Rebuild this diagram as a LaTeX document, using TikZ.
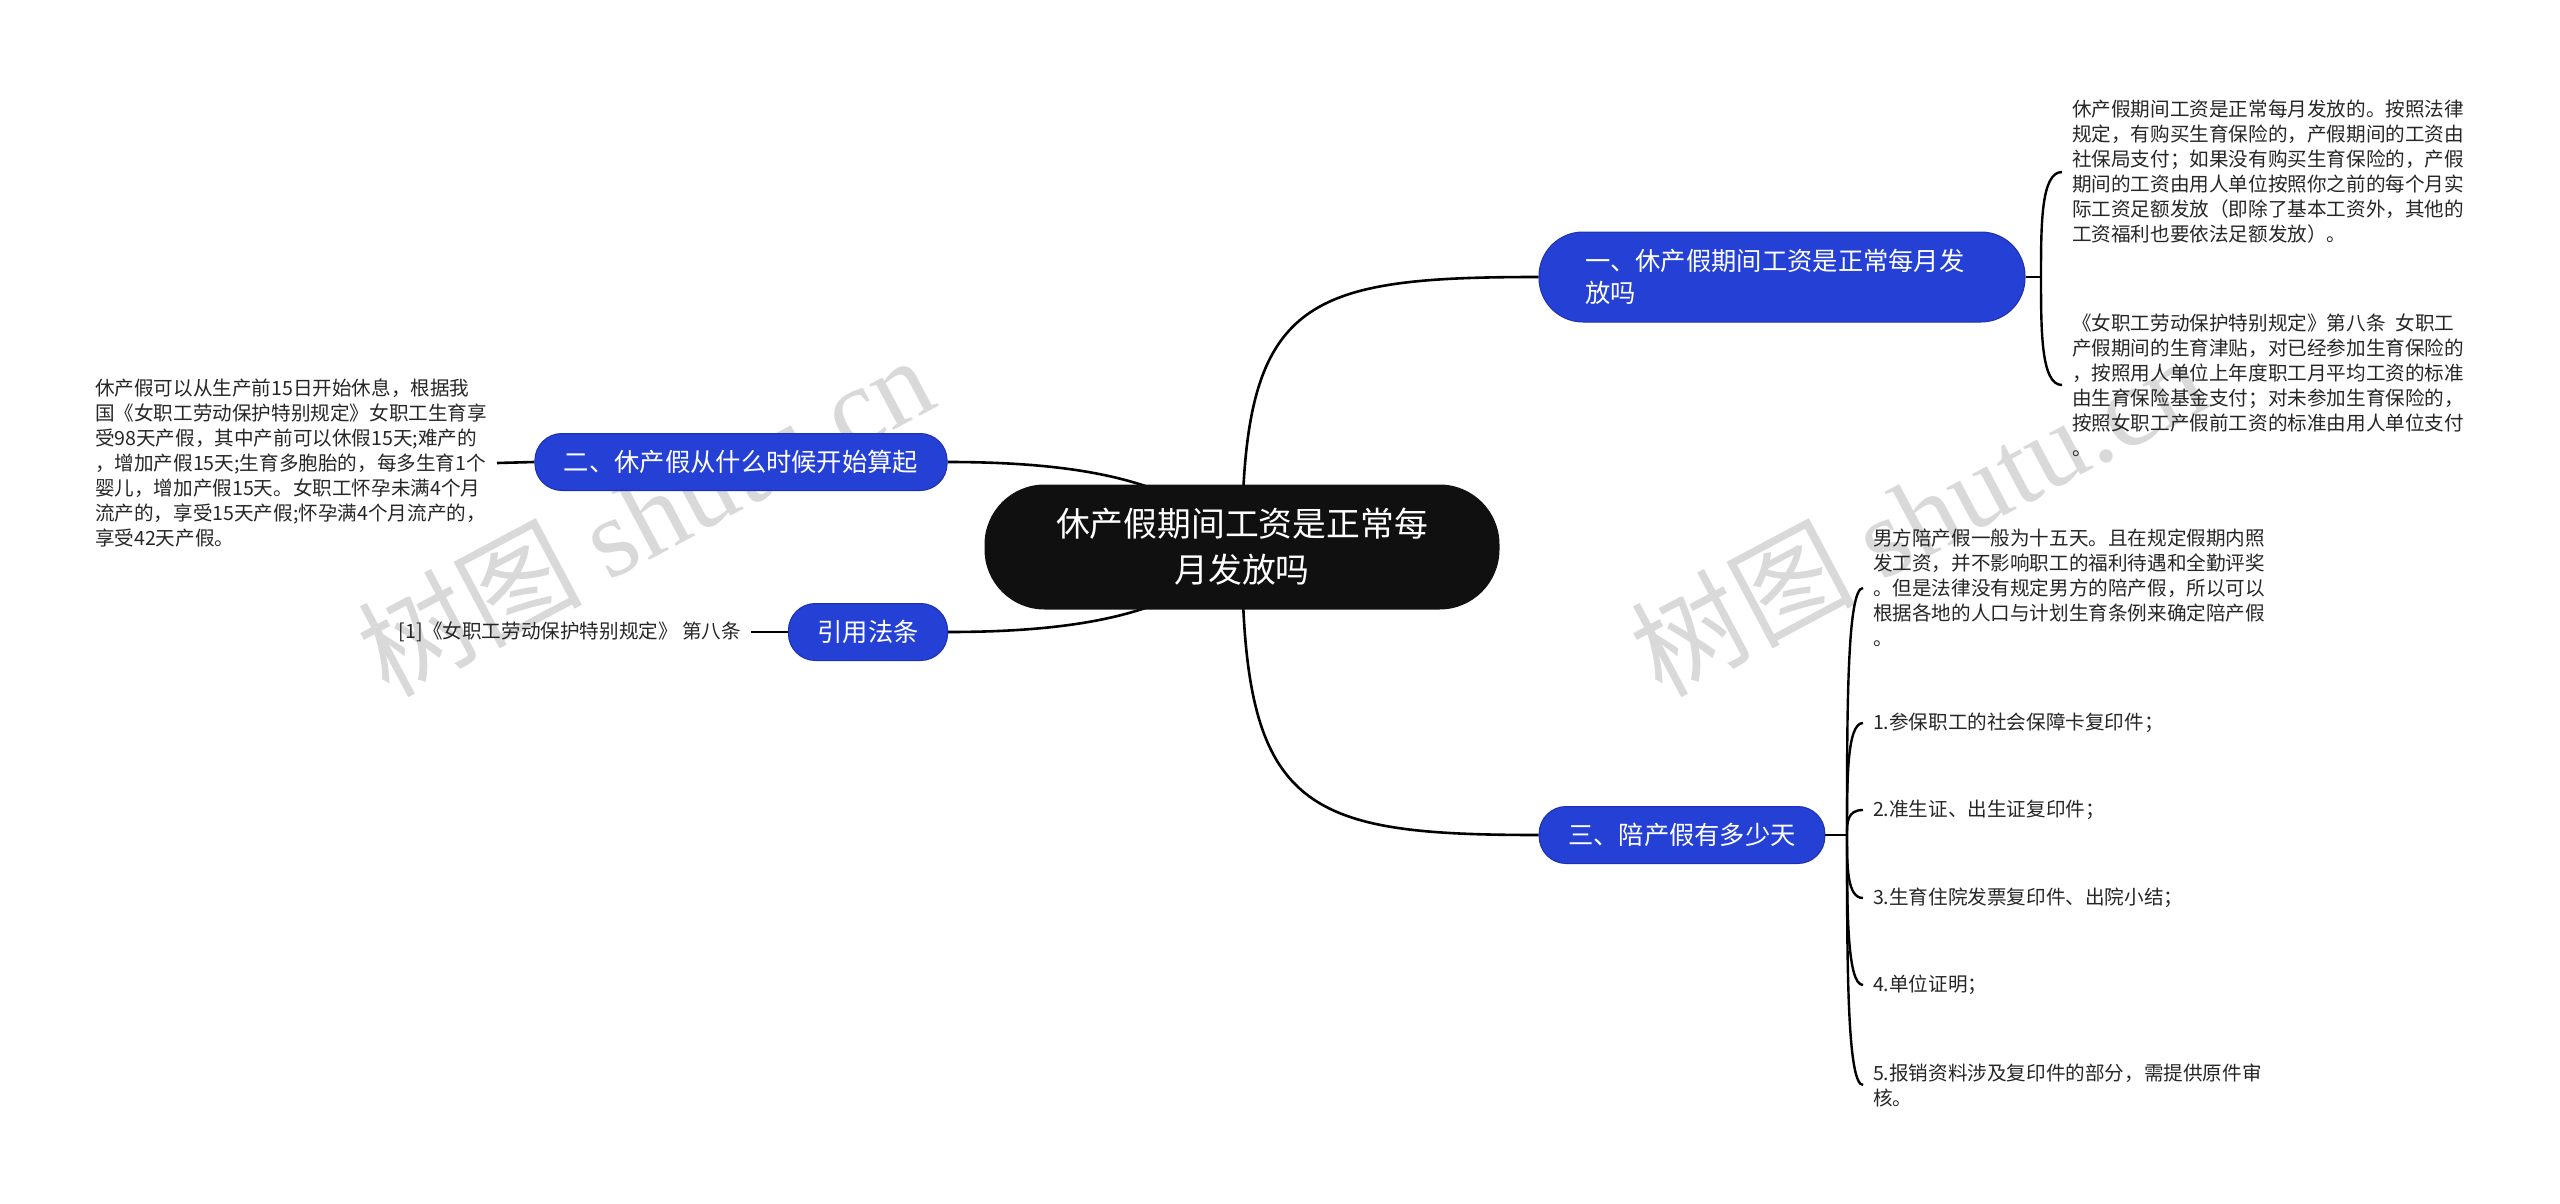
\documentclass[tikz,border=0pt]{standalone}
\usepackage{fontspec}
\newfontfamily\cjk{Noto Sans CJK SC}
\newfontfamily\wmlatin{Liberation Serif}
\usepackage{tikz}
\usetikzlibrary{calc,backgrounds}
\definecolor{nodeblue}{RGB}{37,64,213}
\definecolor{nodeedge}{RGB}{27,48,178}
\definecolor{rootfill}{RGB}{16,16,16}

\begin{document}
\begin{tikzpicture}[x=1pt,y=-1pt,
	conn/.style={line width=2.6pt,black},
	root/.style={fill=rootfill,text=white,rounded corners=60pt,minimum width=515pt,minimum height=125pt,align=center,inner sep=0pt,font=\cjk\fontsize{33.8}{46}\selectfont},
	branch/.style={fill=nodeblue,draw=nodeedge,line width=1pt,text=white,rounded corners=27pt,minimum height=57pt,inner xsep=29pt,inner ysep=0pt,font=\cjk\fontsize{25.3}{32}\selectfont},
	leaf/.style={align=left,inner sep=0pt,outer xsep=10pt,text=black!85,font=\cjk\fontsize{19.6}{25}\selectfont},
	wmark/.style={rotate=28,text=black!15,inner sep=0pt,font=\cjk\fontsize{112}{112}\selectfont}]

	\useasboundingbox (0,0) rectangle (2560,1204);

	\node[root] (root) at (1242,547) {休产假期间工资是正常每\\月发放吗};

	\node[branch,rounded corners=44pt,minimum height=90pt,text width=394pt,inner xsep=46pt,align=left] (n1) at (1782,277) {一、休产假期间工资是正常每月发\\放吗};
	\node[branch] (n2) at (741,462) {二、休产假从什么时候开始算起};
	\node[branch] (n3) at (868,632) {引用法条};
	\node[branch] (n4) at (1682,835) {三、陪产假有多少天};

	\node[leaf,anchor=west] (l11) at (2062,172) {休产假期间工资是正常每月发放的。按照法律\\规定，有购买生育保险的，产假期间的工资由\\社保局支付；如果没有购买生育保险的，产假\\期间的工资由用人单位按照你之前的每个月实\\际工资足额发放（即除了基本工资外，其他的\\工资福利也要依法足额发放）。};
	\node[leaf,anchor=west] (l12) at (2062,385) {《女职工劳动保护特别规定》第八条\hspace{0.5em}女职工\\产假期间的生育津贴，对已经参加生育保险的\\，按照用人单位上年度职工月平均工资的标准\\由生育保险基金支付；对未参加生育保险的，\\按照女职工产假前工资的标准由用人单位支付\\。};

	\node[leaf,anchor=west] (l21) at (85,463) {休产假可以从生产前15日开始休息，根据我\\国《女职工劳动保护特别规定》女职工生育享\\受98天产假，其中产前可以休假15天;难产的\\，增加产假15天;生育多胞胎的，每多生育1个\\婴儿，增加产假15天。女职工怀孕未满4个月\\流产的，享受15天产假;怀孕满4个月流产的，\\享受42天产假。};

	\node[leaf,anchor=east] (l31) at (751,632) {[1]《女职工劳动保护特别规定》 第八条};

	\node[leaf,anchor=west] (l41) at (1863,588) {男方陪产假一般为十五天。且在规定假期内照\\发工资，并不影响职工的福利待遇和全勤评奖\\。但是法律没有规定男方的陪产假，所以可以\\根据各地的人口与计划生育条例来确定陪产假\\。};
	\node[leaf,anchor=west] (l42) at (1863,723) {1.参保职工的社会保障卡复印件；};
	\node[leaf,anchor=west] (l43) at (1863,810) {2.准生证、出生证复印件；};
	\node[leaf,anchor=west] (l44) at (1863,898) {3.生育住院发票复印件、出院小结；};
	\node[leaf,anchor=west] (l45) at (1863,985) {4.单位证明；};
	\node[leaf,anchor=west] (l46) at (1863,1085) {5.报销资料涉及复印件的部分，需提供原件审\\核。};

	\coordinate (j1) at (2041,277);
	\coordinate (j4) at (1847,835);

	\begin{scope}[on background layer]
		\node[wmark] (wm1) at (645,514) {树图 {\wmlatin shutu.cn}};
		\node[wmark] (wm2) at (1918,514) {树图 {\wmlatin shutu.cn}};

		\draw[conn] (root.center) .. controls (1242,300) and (1300,277) .. (n1.west);
		\draw[conn] (root.center) .. controls (1242,810) and (1300,835) .. (n4.west);
		\draw[conn] (n2.east) .. controls (1110,462) and (1190,490) .. (root.center);
		\draw[conn] (n3.east) .. controls (1110,632) and (1190,604) .. (root.center);

		\draw[conn] (l21.east) -- (n2.west);
		\draw[conn] (l31.east) -- (n3.west);
		\draw[conn] (n1.east) -- (j1);
		\draw[conn] (n4.east) -- (j4);
		\foreach \lf in {l11,l12}
			\draw[conn,line width=2.4pt] (j1) .. controls ($(j1)!0.5!(j1|-\lf.west)$) and (j1|-\lf.west) .. (\lf.west);
		\foreach \lf in {l41,l42,l43,l44,l45,l46}
			\draw[conn,line width=2.4pt] (j4) .. controls ($(j4)!0.5!(j4|-\lf.west)$) and (j4|-\lf.west) .. (\lf.west);
	\end{scope}
\end{tikzpicture}
\end{document}
